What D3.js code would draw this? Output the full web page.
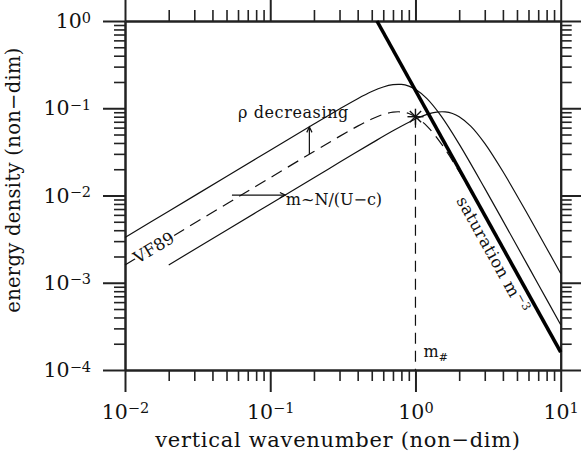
<!DOCTYPE html>
<html>
<head>
<meta charset="utf-8">
<script src="https://cdn.jsdelivr.net/npm/d3@7"></script>
<style>
body { margin: 0; background: #fff; }
svg text { font-family: "DejaVu Serif", serif; fill: #111; }
</style>
</head>
<body>
<script>
// vertical wavenumber samples (non-dim)
const mSamples = [0.01, 0.02, 0.05, 0.1, 0.2, 0.3, 0.4, 0.5, 0.6, 0.7, 0.8, 0.9, 1.0, 1.2, 1.5, 2, 3, 5, 7, 10];
// VF89 reference spectrum (dashed)
const vf89E = [0.0016, 0.0032, 0.008, 0.016, 0.03195, 0.04762, 0.0624, 0.0753, 0.085, 0.0903, 0.0908, 0.087, 0.08, 0.0625, 0.0396, 0.01882, 0.005854, 0.001278, 0.000466, 0.00016];
// rho decreasing (upper solid)
const upperE = [0.0033, 0.0066, 0.0165, 0.033, 0.0659, 0.0982, 0.1287, 0.1553, 0.1753, 0.1863, 0.1873, 0.1793, 0.165, 0.1288, 0.0817, 0.0388, 0.01207, 0.002636, 0.000962, 0.00033];
// shifted spectrum, m ~ N/(U-c) (lower solid)
const shiftM = [0.02, 0.05, 0.1, 0.2, 0.3, 0.5, 0.7, 1.0, 1.2, 1.4, 1.6, 1.8, 2.0, 2.4, 3.0, 4.0, 6.0, 8.0, 10];
const shiftE = [0.0016, 0.004, 0.008, 0.016, 0.02399, 0.03984, 0.05517, 0.0753, 0.085, 0.0903, 0.0908, 0.087, 0.08, 0.0625, 0.0396, 0.01882, 0.005854, 0.00249, 0.001278];
// saturation m^-3 (thick)
const satM = [0.543, 10];
const satE = [1, 0.00016];
// characteristic wavenumber m#
const mStar = 1, eStar = 0.08;
// tick labels (powers of ten)
const xTicks = [0.01, 0.1, 1, 10];
const xExp = ["\u22122", "\u22121", "0", "1"];
const yTicks = [1e-4, 1e-3, 1e-2, 1e-1, 1];
const yExp = ["\u22124", "\u22123", "\u22122", "\u22121", "0"];

const W = 581, H = 458;
const svg = d3.select("body").append("svg")
	.attr("width", W)
	.attr("height", H);

const x = d3.scaleLog().domain([0.01, 10]).range([125, 560.7]);
const y = d3.scaleLog().domain([1e-4, 1]).range([370, 21]);

//minor ticks = every non-decade tick
const xMinor = x.ticks().filter(v => xTicks.every(t => Math.abs(v / t - 1) > 1e-6));
const yMinor = y.ticks().filter(v => yTicks.every(t => Math.abs(v / t - 1) > 1e-6));

function styleAxis(g, w) {
	g.select(".domain").attr("stroke", "#222").attr("stroke-width", 2);
	g.selectAll(".tick line").attr("stroke", "#222").attr("stroke-width", w);
}

function addAxis(axisFn, scale, transform, majors, minors, labels, exps) {
	let gMin = svg.append("g").attr("transform", transform)
		.call(axisFn(scale).tickValues(minors).tickSize(11).tickSizeOuter(0).tickFormat(""));
	styleAxis(gMin, 1.6);
	let ax = axisFn(scale).tickValues(majors).tickSize(22).tickSizeOuter(0).tickPadding(12);
	ax.tickFormat(labels ? (d, i) => "10" : "");
	let gMaj = svg.append("g").attr("transform", transform).call(ax);
	styleAxis(gMaj, 2);
	gMaj.selectAll(".tick text").attr("font-size", 20.5).attr("font-family", null);
	if (labels) {
		gMaj.selectAll(".tick text").each(function (d, i) {
			let t = d3.select(this);
			t.text(null);
			t.append("tspan").text("10");
			t.append("tspan").attr("font-size", 14.5).attr("dy", -5.5).text(exps[i]);
		});
	}
}

addAxis(d3.axisBottom, x, "translate(0,370)", xTicks, xMinor, true, xExp);
addAxis(d3.axisTop, x, "translate(0,21)", xTicks, xMinor, false);
addAxis(d3.axisLeft, y, "translate(125,0)", yTicks, yMinor, true, yExp);
addAxis(d3.axisRight, y, "translate(560.7,0)", yTicks, yMinor, false);

//axis titles
svg.append("text")
	.attr("x", 338).attr("y", 447)
	.attr("text-anchor", "middle")
	.attr("font-size", 21)
	.attr("letter-spacing", 0.7)
	.text("vertical wavenumber (non\u2212dim)");

svg.append("text")
	.attr("transform", "translate(20,180) rotate(-90)")
	.attr("text-anchor", "middle")
	.attr("font-size", 19.5)
	.attr("letter-spacing", 0.3)
	.text("energy density (non\u2212dim)");

//curves
const line = d3.line()
	.x(d => x(d[0]))
	.y(d => y(d[1]))
	.curve(d3.curveCatmullRom);

svg.append("path")
	.datum(mSamples.map((m, i) => [m, upperE[i]]))
	.attr("d", line)
	.attr("fill", "none").attr("stroke", "#111").attr("stroke-width", 1.2);

svg.append("path")
	.datum(shiftM.map((m, i) => [m, shiftE[i]]))
	.attr("d", line)
	.attr("fill", "none").attr("stroke", "#111").attr("stroke-width", 1.2);

svg.append("path")
	.datum(mSamples.map((m, i) => [m, vf89E[i]]))
	.attr("d", line)
	.attr("fill", "none").attr("stroke", "#111").attr("stroke-width", 1.2)
	.attr("stroke-dasharray", "12,7");

svg.append("path")
	.datum(satM.map((m, i) => [m, satE[i]]))
	.attr("d", d3.line().x(d => x(d[0])).y(d => y(d[1])))
	.attr("fill", "none").attr("stroke", "#000").attr("stroke-width", 3.6);

//m# marker and dashed drop line
svg.append("line")
	.attr("x1", x(mStar)).attr("y1", y(eStar))
	.attr("x2", x(mStar)).attr("y2", y(1e-4))
	.attr("stroke", "#111").attr("stroke-width", 1.2)
	.attr("stroke-dasharray", "11,7");

let sx = x(mStar), sy = y(eStar);
for (let a = 0; a < 180; a += 45) {
	let r = 8, c = Math.cos(a * Math.PI / 180) * r, s = Math.sin(a * Math.PI / 180) * r;
	svg.append("line")
		.attr("x1", sx - c).attr("y1", sy - s)
		.attr("x2", sx + c).attr("y2", sy + s)
		.attr("stroke", "#111").attr("stroke-width", 1.4);
}

//arrows
function arrow(x1, y1, x2, y2) {
	svg.append("line")
		.attr("x1", x1).attr("y1", y1).attr("x2", x2).attr("y2", y2)
		.attr("stroke", "#111").attr("stroke-width", 1.2);
	let ang = Math.atan2(y2 - y1, x2 - x1), L = 6, h = 0.45;
	svg.append("path")
		.attr("d", `M${x2 - L * Math.cos(ang - h)},${y2 - L * Math.sin(ang - h)} L${x2},${y2} L${x2 - L * Math.cos(ang + h)},${y2 - L * Math.sin(ang + h)}`)
		.attr("fill", "none").attr("stroke", "#111").attr("stroke-width", 1.2);
}
arrow(x(0.186), y(0.0298), x(0.186), y(0.061));
arrow(x(0.0545), y(0.0101), x(0.127), y(0.0101));

//annotations
svg.append("text")
	.attr("x", x(0.06)).attr("y", y(0.0773))
	.attr("font-size", 16)
	.attr("letter-spacing", 0.6)
	.text("\u03c1 decreasing");

svg.append("text")
	.attr("x", x(0.128)).attr("y", y(0.00778))
	.attr("font-size", 16)
	.text("m~N/(U\u2212c)");

let slopeAng = Math.atan2(y(0.0016) - y(0.00016), x(0.01) - x(0.001)) * 180 / Math.PI;
svg.append("text")
	.attr("transform", `translate(${x(0.0158)},${y(0.00253)}) rotate(${slopeAng})`)
	.attr("text-anchor", "middle")
	.attr("dy", "0.35em")
	.attr("font-size", 16.5)
	.attr("stroke", "#fff").attr("stroke-width", 5)
	.attr("paint-order", "stroke")
	.text("VF89");

let m0 = svg.append("text")
	.attr("x", x(1.136)).attr("y", y(1.41e-4))
	.attr("font-size", 16);
m0.append("tspan").text("m");
m0.append("tspan").attr("font-size", 11).attr("dy", 4).text("#");

let satAng = Math.atan2(y(satE[1]) - y(satE[0]), x(satM[1]) - x(satM[0])) * 180 / Math.PI;
let st = svg.append("text")
	.attr("transform", `translate(${x(1.905)},${y(0.00877)}) rotate(${satAng})`)
	.attr("font-size", 16.5)
	.attr("letter-spacing", 0.5);
st.append("tspan").text("saturation m");
st.append("tspan").attr("font-size", 11.5).attr("dy", -6).text("\u22123");
</script>
</body>
</html>
